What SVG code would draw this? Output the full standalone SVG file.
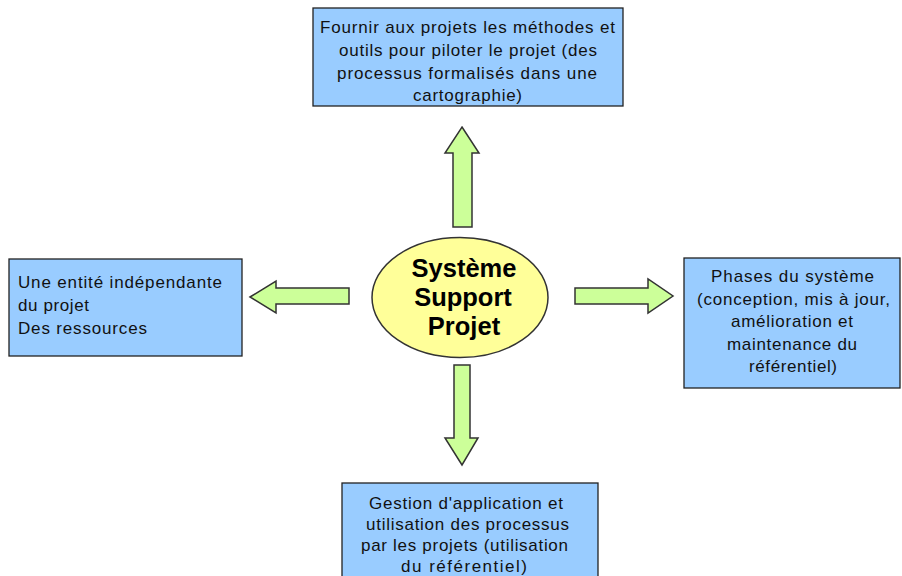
<svg xmlns="http://www.w3.org/2000/svg" width="902" height="576" viewBox="0 0 902 576">
<style>
.box{fill:#99ccff;stroke:#222;stroke-width:1.3}
.arr{fill:#ccff99;stroke:#333;stroke-width:1.5;stroke-linejoin:miter}
.t{font-family:"Liberation Sans",Arial,sans-serif;font-size:17px;fill:#111}
.b{font-family:"Liberation Sans",Arial,sans-serif;font-size:25.5px;font-weight:bold;fill:#000;text-anchor:middle}
</style>
<rect width="902" height="576" fill="#fff"/>
<g id="connectors">
<polygon class="arr" points="462,127 479,153 472,153 472,227 453,227 453,153 445,153"/>
<polygon class="arr" points="250,297 276,281 276,288 349,288 349,304 276,304 276,313"/>
<polygon class="arr" points="575,288 648,288 648,279 673,296 648,313 648,304 575,304"/>
<polygon class="arr" points="454,365 470,365 470,438 478,438 462,465 445,438 454,438"/>
</g>
<g id="center">
<ellipse cx="460" cy="297.5" rx="88" ry="60" fill="#ffff99" stroke="#333" stroke-width="1.5"/>
<text class="b" x="464" y="277">Système</text>
<text class="b" x="463" y="306">Support</text>
<text class="b" x="464" y="335">Projet</text>
</g>
<g id="top">
<rect class="box" x="313" y="8" width="310" height="98"/>
<text class="t" x="320" y="33" textLength="295" lengthAdjust="spacing">Fournir aux projets les méthodes et</text>
<text class="t" x="339" y="56" textLength="258" lengthAdjust="spacing">outils pour piloter le projet (des</text>
<text class="t" x="337" y="79" textLength="260" lengthAdjust="spacing">processus formalisés dans une</text>
<text class="t" x="413" y="101" textLength="109" lengthAdjust="spacing">cartographie)</text>
</g>
<g id="left">
<rect class="box" x="9" y="259" width="233" height="97"/>
<text class="t" x="18" y="288" textLength="204" lengthAdjust="spacing">Une entité indépendante</text>
<text class="t" x="18" y="311" textLength="71" lengthAdjust="spacing">du projet</text>
<text class="t" x="18" y="334" textLength="129" lengthAdjust="spacing">Des ressources</text>
</g>
<g id="right">
<rect class="box" x="684" y="258" width="216" height="130"/>
<text class="t" x="711" y="282" textLength="163" lengthAdjust="spacing">Phases du système</text>
<text class="t" x="697" y="305" textLength="193" lengthAdjust="spacing">(conception, mis à jour,</text>
<text class="t" x="731" y="327" textLength="122" lengthAdjust="spacing">amélioration et</text>
<text class="t" x="727" y="350" textLength="130" lengthAdjust="spacing">maintenance du</text>
<text class="t" x="749" y="372" textLength="88" lengthAdjust="spacing">référentiel)</text>
</g>
<g id="bottom">
<rect class="box" x="342" y="483" width="256" height="100"/>
<text class="t" x="369" y="509" textLength="194" lengthAdjust="spacing">Gestion d'application et</text>
<text class="t" x="366" y="530" textLength="203" lengthAdjust="spacing">utilisation des processus</text>
<text class="t" x="361" y="551" textLength="207" lengthAdjust="spacing">par les projets (utilisation</text>
<text class="t" x="401" y="571.5" textLength="126" lengthAdjust="spacing">du référentiel)</text>
</g>
</svg>
